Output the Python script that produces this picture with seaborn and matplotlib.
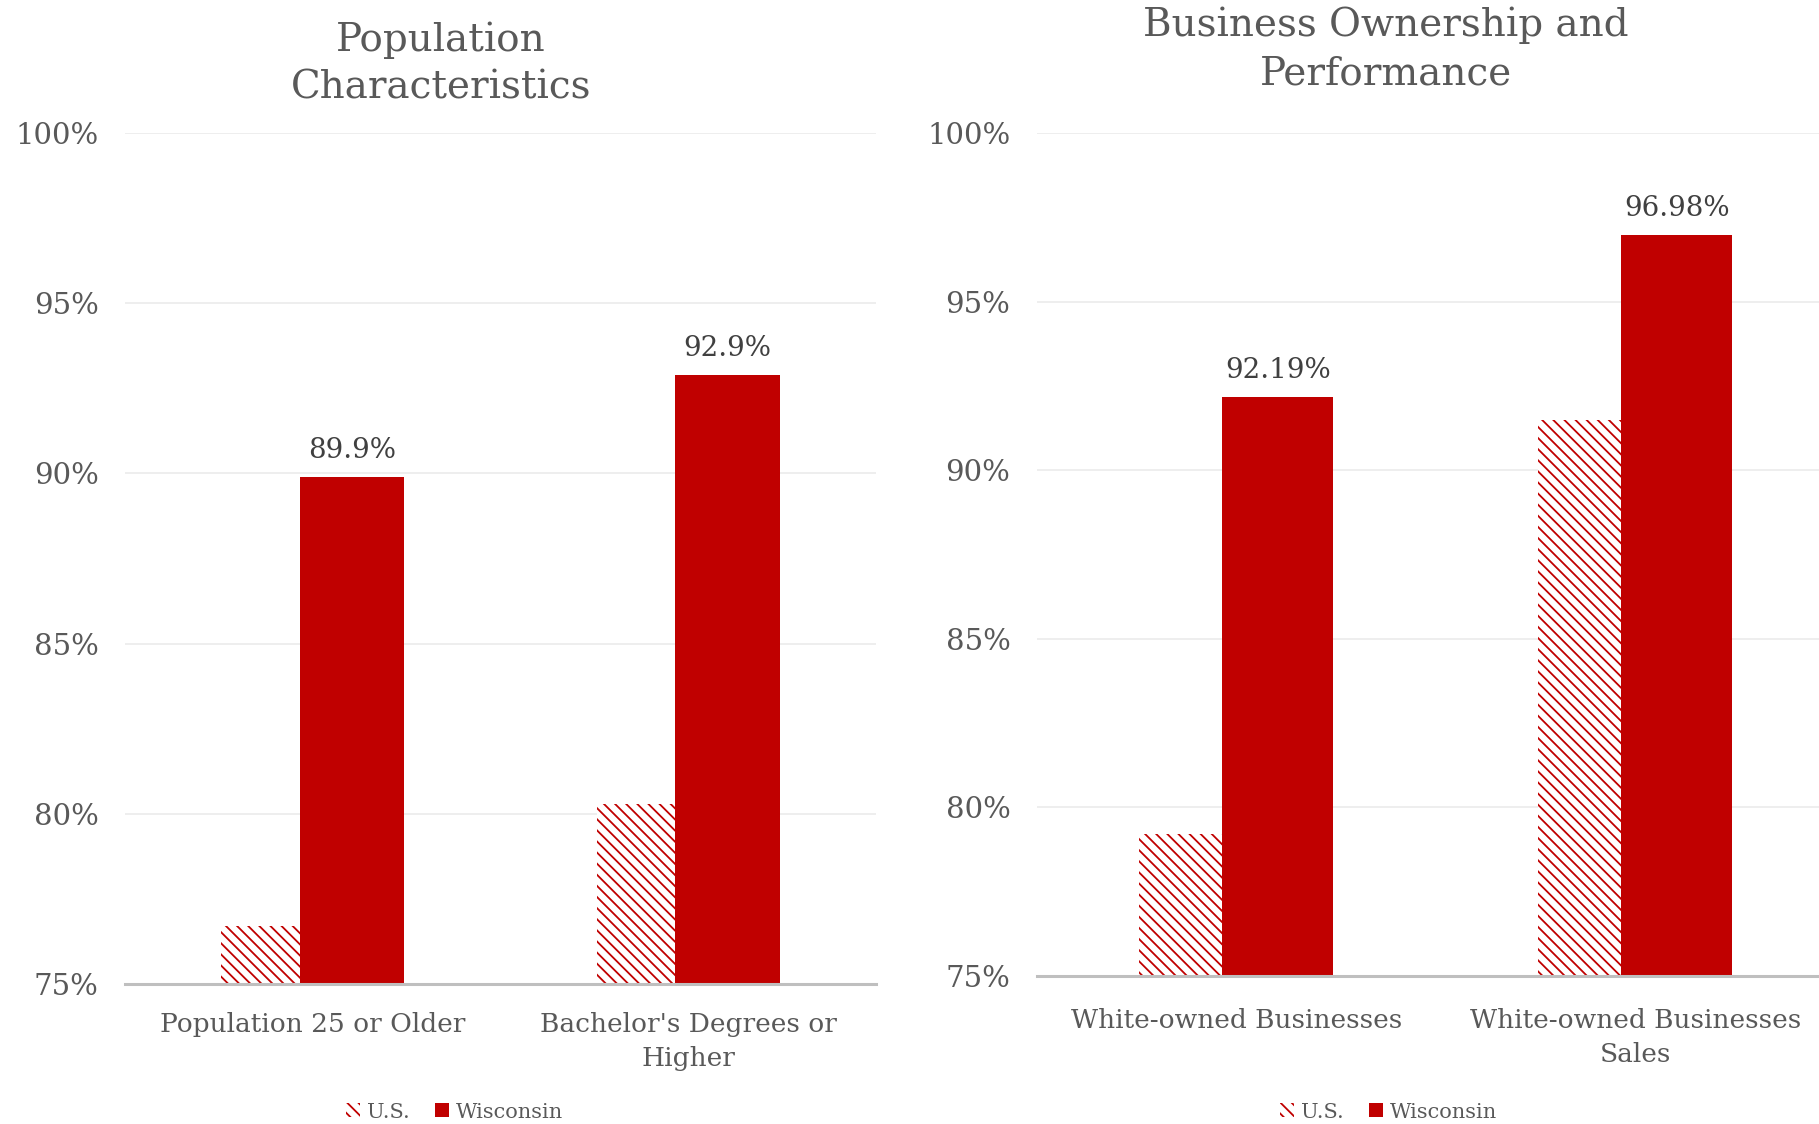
import numpy as np
import matplotlib
matplotlib.use("Agg")
import matplotlib.pyplot as plt
from matplotlib.patches import Patch
import seaborn as sns

# ---- data ----
pop_categories = ["Population 25 or Older", "Bachelor's Degrees or\nHigher"]
pop_us = [76.7, 80.3]
pop_wi = [89.9, 92.9]

biz_categories = ["White-owned Businesses", "White-owned Businesses\nSales"]
biz_us = [79.2, 91.5]
biz_wi = [92.19, 96.98]

pop_wi_labels = ["89.9%", "92.9%"]
biz_wi_labels = ["92.19%", "96.98%"]

y_ticks = [75, 80, 85, 90, 95, 100]
y_tick_labels = ["75%", "80%", "85%", "90%", "95%", "100%"]

series_names = ["U.S.", "Wisconsin"]

# ---- style ----
RED = "#C00000"
GRID = "#EAEAEA"
AXIS = "#BFBFBF"
TXT = "#595959"
LBL = "#404040"
HATCH = "\\\\\\"

sns.set_theme(style="white")
plt.rcParams["font.family"] = ["DejaVu Serif"]
plt.rcParams["hatch.linewidth"] = 1.3

fig = plt.figure(figsize=(18.19, 11.24), dpi=100)

BAR_W = 0.278
OFFSET = 0.104


def draw_panel(ax, cats, us, wi, labels, tick_pad):
    idx = np.arange(len(cats))
    sns.barplot(x=idx - OFFSET, y=us, native_scale=True, orient="x",
                width=BAR_W, color="white", saturation=1, errorbar=None,
                edgecolor=RED, linewidth=0, hatch=HATCH, ax=ax)
    sns.barplot(x=idx + OFFSET, y=wi, native_scale=True, orient="x",
                width=BAR_W, color=RED, saturation=1, errorbar=None,
                linewidth=0, ax=ax)
    # value labels over the Wisconsin bars
    for xi, v, t in zip(idx + OFFSET, wi, labels):
        ax.annotate(t, (xi, v), xytext=(0, 19), textcoords="offset points",
                    ha="center", va="center", fontsize=20, color=LBL)
    ax.set_xlim(-0.5, len(cats) - 0.5)
    ax.set_ylim(75, 100)
    ax.set_yticks(y_ticks)
    ax.set_yticklabels(y_tick_labels, fontsize=21, color=TXT)
    ax.set_xticks(idx)
    ax.set_xticklabels(cats, fontsize=19, color=TXT, linespacing=1.42)
    ax.tick_params(axis="y", length=0, pad=19)
    ax.tick_params(axis="x", length=0, pad=tick_pad)
    ax.grid(axis="y", color=GRID, linewidth=1.1)
    ax.set_axisbelow(True)
    for s in ["top", "right", "left"]:
        ax.spines[s].set_visible(False)
    ax.spines["bottom"].set_color(AXIS)
    ax.spines["bottom"].set_linewidth(2.2)
    ax.spines["bottom"].set_zorder(5)
    ax.set_xlabel("")
    ax.set_ylabel("")


ax1 = fig.add_axes([0.0687, 0.1246, 0.4129, 0.7571])
draw_panel(ax1, pop_categories, pop_us, pop_wi, pop_wi_labels, 20.5)

ax2 = fig.add_axes([0.570, 0.132, 0.4388, 0.7493])
draw_panel(ax2, biz_categories, biz_us, biz_wi, biz_wi_labels, 23.5)

# panel titles
fig.text(0.2424, 0.943, "Population\nCharacteristics", ha="center", va="center",
         fontsize=28, color=TXT, linespacing=1.38)
fig.text(0.762, 0.956, "Business Ownership and\nPerformance", ha="center", va="center",
         fontsize=28, color=TXT, linespacing=1.38)

# legends under each panel
handles = [
    Patch(facecolor="white", edgecolor=RED, linewidth=0, hatch=HATCH, label=series_names[0]),
    Patch(facecolor=RED, edgecolor=RED, linewidth=0, label=series_names[1]),
]
for cx in (0.250, 0.7635):
    fig.legend(handles=handles, loc="center", bbox_to_anchor=(cx, 0.0105),
               ncol=2, frameon=False, fontsize=15, handlelength=0.65,
               handleheight=0.65, handletextpad=0.35, columnspacing=1.2,
               labelcolor=TXT)

fig.savefig("out.png", dpi=100, facecolor="white")
